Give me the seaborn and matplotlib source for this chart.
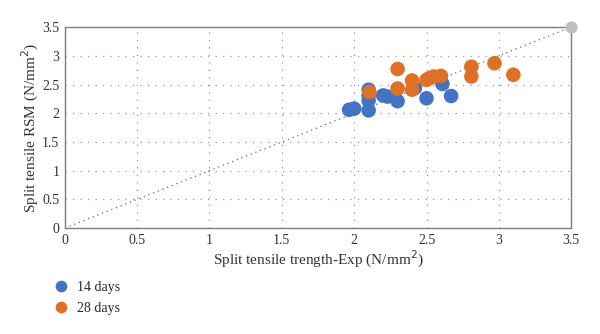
import matplotlib
matplotlib.use("Agg")
import matplotlib.pyplot as plt
import seaborn as sns
import pandas as pd

x14 = [1.965, 2.00, 2.10, 2.10, 2.10, 2.10, 2.20, 2.23, 2.30, 2.42, 2.50, 2.61, 2.67]
y14 = [2.06, 2.08, 2.41, 2.31, 2.22, 2.05, 2.31, 2.29, 2.21, 2.44, 2.26, 2.51, 2.30]
x28 = [2.105, 2.30, 2.30, 2.40, 2.40, 2.50, 2.52, 2.55, 2.60, 2.81, 2.81, 2.97, 3.10]
y28 = [2.37, 2.77, 2.43, 2.57, 2.41, 2.58, 2.61, 2.64, 2.65, 2.81, 2.64, 2.87, 2.67]
labels = ["14 days", "28 days"]
colors = ["#4472C4", "#DD7226"]
ticks = [0, 0.5, 1, 1.5, 2, 2.5, 3, 3.5]
tick_labels = ["0", "0.5", "1", "1.5", "2", "2.5", "3", "3.5"]

df = pd.DataFrame({
    "x": x14 + x28,
    "y": y14 + y28,
    "group": [labels[0]] * len(x14) + [labels[1]] * len(x28),
})

sns.set_theme(style="white")
plt.rcParams["font.family"] = ["Liberation Serif", "DejaVu Serif"]

fig = plt.figure(figsize=(6, 3.34), dpi=100)
ax = fig.add_axes([0.108, 0.317, 0.844, 0.602])

ax.plot([0, 3.5], [0, 3.5], linestyle=(0, (1, 3)), color="#666666", linewidth=0.9, zorder=1)
ax.scatter([3.5], [3.5], s=60, color="#BFBFBF", zorder=3, clip_on=False)

sns.scatterplot(data=df, x="x", y="y", hue="group", palette=colors, s=110,
                edgecolor="none", ax=ax, zorder=2, legend=True)

ax.set_xlim(0, 3.5)
ax.set_ylim(0, 3.5)
ax.set_xticks(ticks)
ax.set_xticklabels(tick_labels)
ax.set_yticks(ticks)
ax.set_yticklabels(tick_labels)
ax.tick_params(axis="both", labelsize=10, colors="#333333", length=0, pad=4)
ax.grid(True, linestyle=(0, (1, 5)), color="#999999", linewidth=0.9)
for sp in ax.spines.values():
    sp.set_color("#7f7f7f")
    sp.set_linewidth(1.0)

ax.set_xlabel("Split tensile trength-Exp (N/mm$^2$)", fontsize=11, color="#333333", labelpad=2)
ax.set_ylabel("Split tensile RSM (N/mm$^2$)", fontsize=11, color="#333333", labelpad=1)

handles, labs = ax.get_legend_handles_labels()
ax.legend(handles, labs, loc="upper left", bbox_to_anchor=(-0.045, -0.235),
          frameon=False, fontsize=10, handletextpad=0.1, labelspacing=0.55,
          markerscale=0.8, borderaxespad=0)

fig.savefig("out.png", dpi=100)
